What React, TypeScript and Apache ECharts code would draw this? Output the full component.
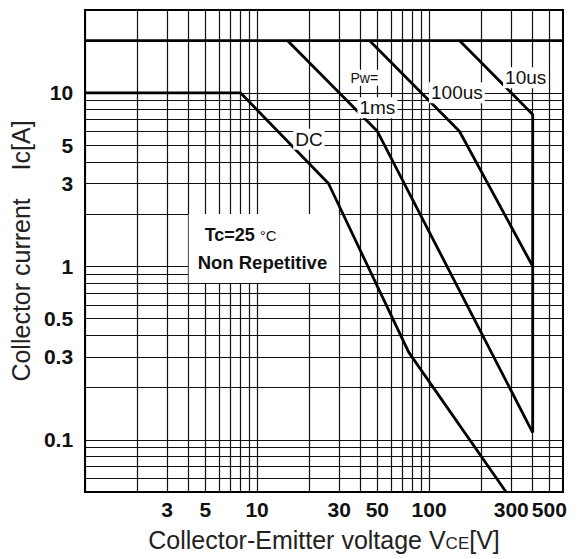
import React, { useEffect, useRef } from "react";
import * as echarts from "echarts";

// Tick labels
const xLabelValues = [3, 5, 10, 30, 50, 100, 300, 500];
const yLabelValues = [0.1, 0.3, 0.5, 1, 3, 5, 10];

// Grid lines (log paper)
const xGridValues = [2, 3, 4, 5, 6, 7, 8, 9, 10, 20, 30, 40, 50, 60, 70, 80, 90, 100, 200, 300, 400, 500];
const yGridValues = [0.06, 0.07, 0.08, 0.09, 0.1, 0.2, 0.3, 0.4, 0.5, 0.6, 0.7, 0.8, 0.9, 1, 2, 3, 4, 5, 6, 7, 8, 9, 10, 20];

// Safe operating area curves: voltage [V], current [A]
const limitV = [1, 600];
const limitI = [20, 20];
const dcV = [1, 8, 26, 76, 280];
const dcI = [10, 10, 3, 0.32, 0.05];
const ms1V = [15, 50, 400];
const ms1I = [20, 6, 0.11];
const us100V = [45, 150, 400];
const us100I = [20, 6, 1];
const us10V = [150, 400, 400];
const us10I = [20, 7.5, 0.11];

// Curve label anchors (data coordinates)
const labelNames = ["DC", "Pw=", "1ms", "100us", "10us"];
const labelV = [20, 42, 50, 145, 364];
const labelI = [5.4, 12.2, 8.2, 10, 12.2];
const labelSizes = [19, 14, 19, 19, 19];

const pairs = (xs: number[], ys: number[]) => xs.map((x, i) => [x, ys[i]]);

export default function App() {
  const ref = useRef<HTMLDivElement>(null);
  useEffect(() => {
    document.body.style.margin = "0";
    const chart = echarts.init(ref.current!, undefined, { renderer: "svg" });
    const fontFamily = "'Liberation Sans', Arial, sans-serif";
    const curveStyle = { color: "#000", width: 2.8 };
    const curve = (name: string, xs: number[], ys: number[]) => ({
      type: "line",
      name,
      data: pairs(xs, ys),
      showSymbol: false,
      symbol: "none",
      lineStyle: curveStyle,
      silent: true,
      z: 10,
    });
    chart.setOption({
      animation: false,
      backgroundColor: "#fff",
      grid: {
        left: 84,
        top: 10,
        width: 479,
        height: 482,
        show: true,
        borderColor: "#000",
        borderWidth: 2,
        backgroundColor: "#fff",
      },
      xAxis: {
        type: "log",
        logBase: 10,
        min: 1,
        max: 600,
        name: "Collector-Emitter voltage V{s|CE}[V]",
        nameLocation: "middle",
        nameGap: 35,
        nameTextStyle: {
          fontFamily,
          fontSize: 25,
          color: "#222",
          rich: { s: { fontFamily, fontSize: 17, color: "#222", verticalAlign: "bottom" } },
        },
        axisLine: { show: true, lineStyle: { color: "#000", width: 2 } },
        axisTick: { show: false },
        splitLine: { show: false },
        minorSplitLine: { show: false },
        axisLabel: {
          customValues: xLabelValues,
          margin: 7,
          fontFamily,
          fontSize: 21,
          fontWeight: "bold",
          color: "#111",
          formatter: (v: number) => `${+Number(v).toPrecision(3)}`,
        },
      },
      yAxis: {
        type: "log",
        logBase: 10,
        min: 0.05,
        max: 30,
        name: "Collector current\u00a0\u00a0\u00a0\u00a0Ic[A]",
        nameLocation: "middle",
        nameGap: 50,
        nameTextStyle: { fontFamily, fontSize: 25, color: "#222" },
        axisLine: { show: true, lineStyle: { color: "#000", width: 2 } },
        axisTick: { show: false },
        splitLine: { show: false },
        minorSplitLine: { show: false },
        axisLabel: {
          customValues: yLabelValues,
          margin: 12,
          fontFamily,
          fontSize: 21,
          fontWeight: "bold",
          color: "#111",
          formatter: (v: number) => `${+Number(v).toPrecision(3)}`,
        },
      },
      series: [
        {
          type: "line",
          name: "grid",
          data: [],
          silent: true,
          z: 1,
          markLine: {
            silent: true,
            symbol: ["none", "none"],
            label: { show: false },
            z: 1,
            lineStyle: { color: "#111", width: 1.2, type: "solid" },
            emphasis: { disabled: true },
            data: [
              ...xGridValues.map((v) => ({ xAxis: v })),
              ...yGridValues.map((v) => ({ yAxis: v })),
            ],
          },
        },
        {
          type: "line",
          name: "note",
          data: [],
          silent: true,
          z: 5,
          markArea: {
            silent: true,
            z: 5,
            itemStyle: { color: "#fff" },
            label: {
              show: true,
              position: "insideLeft",
              distance: 9,
              formatter: "{a|Tc=25 }{b|°C}\n{c|Non Repetitive}",
              rich: {
                a: { fontFamily, fontSize: 18, fontWeight: "bold", color: "#111", lineHeight: 27, padding: [0, 0, 0, 7] },
                b: { fontFamily, fontSize: 15, color: "#111", lineHeight: 27 },
                c: { fontFamily, fontSize: 18.5, fontWeight: "bold", color: "#111", lineHeight: 27 },
              },
            },
            data: [[{ xAxis: 4, yAxis: 0.8 }, { xAxis: 30, yAxis: 2 }]],
          },
        },
        curve("limit", limitV, limitI),
        curve("DC", dcV, dcI),
        curve("1ms", ms1V, ms1I),
        curve("100us", us100V, us100I),
        curve("10us", us10V, us10I),
        {
          type: "line",
          name: "labels",
          data: [],
          silent: true,
          z: 20,
          markPoint: {
            silent: true,
            z: 20,
            symbol: "circle",
            symbolSize: 1,
            itemStyle: { color: "rgba(0,0,0,0)" },
            data: labelNames.map((n, i) => ({
              name: n,
              coord: [labelV[i], labelI[i]],
              label: {
                show: true,
                position: "inside",
                formatter: n,
                fontFamily,
                fontSize: labelSizes[i],
                color: "#111",
                backgroundColor: "#fff",
                padding: [1, 2],
              },
            })),
          },
        },
      ],
    });
    return () => chart.dispose();
  }, []);
  return <div ref={ref} style={{ width: 585, height: 559 }} />;
}
